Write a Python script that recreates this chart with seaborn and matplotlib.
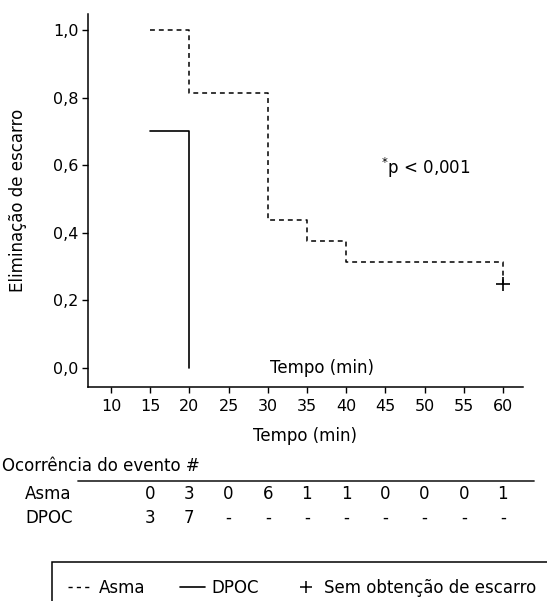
import matplotlib
matplotlib.use("Agg")
import matplotlib.pyplot as plt
import matplotlib.transforms as mtransforms
from matplotlib.lines import Line2D
from matplotlib.patches import Rectangle
import seaborn as sns
import pandas as pd

# Curvas de eliminação de escarro (Kaplan-Meier)
asma_tempo = [15, 20, 30, 35, 40, 60]
asma_elim = [1.0, 0.8125, 0.4375, 0.375, 0.3125, 0.25]
dpoc_tempo = [15, 20]
dpoc_elim = [0.7, 0.0]
censura_tempo = [60]
censura_elim = [0.25]

# Tabela de ocorrência do evento
tabela_tempo = [15, 20, 25, 30, 35, 40, 45, 50, 55, 60]
asma_eventos = ["0", "3", "0", "6", "1", "1", "0", "0", "0", "1"]
dpoc_eventos = ["3", "7", "-", "-", "-", "-", "-", "-", "-", "-"]

xticks = [10, 15, 20, 25, 30, 35, 40, 45, 50, 55, 60]
yticks = [0.0, 0.2, 0.4, 0.6, 0.8, 1.0]

FS = 12

sns.set_theme(style="ticks")
plt.rcParams["font.family"] = ["DejaVu Sans"]
plt.rcParams["mathtext.default"] = "regular"
plt.rcParams["font.size"] = FS
plt.rcParams["text.color"] = "black"
plt.rcParams["axes.labelcolor"] = "black"

fig = plt.figure(figsize=(5.47, 6.01), dpi=100)
ax = fig.add_axes([0.1609, 0.356, 0.795, 0.6207])

df_asma = pd.DataFrame({"tempo": asma_tempo, "elim": asma_elim})
df_dpoc = pd.DataFrame({"tempo": dpoc_tempo, "elim": dpoc_elim})
df_cens = pd.DataFrame({"tempo": censura_tempo, "elim": censura_elim})

sns.lineplot(data=df_asma, x="tempo", y="elim", ax=ax, color="black",
             estimator=None, sort=False, drawstyle="steps-post",
             linewidth=1.1, linestyle=(0, (3.2, 2.6)))
sns.lineplot(data=df_dpoc, x="tempo", y="elim", ax=ax, color="black",
             estimator=None, sort=False, drawstyle="steps-post", linewidth=1.2)
sns.scatterplot(data=df_cens, x="tempo", y="elim", ax=ax, color="black",
                marker="+", s=90, linewidth=1.2)

ax.set_xlim(7.07, 62.55)
ax.set_ylim(-0.056, 1.047)
ax.set_xticks(xticks)
ax.set_yticks(yticks)
ax.set_yticklabels([f"{v:.1f}".replace(".", ",") for v in yticks])
ax.tick_params(axis="both", direction="out", length=4.3, width=1.0,
               labelsize=11.5, color="black", labelcolor="black")
ax.tick_params(axis="x", pad=4.5)
ax.tick_params(axis="y", pad=2.5)
for s in ["top", "right"]:
    ax.spines[s].set_visible(False)
for s in ["left", "bottom"]:
    ax.spines[s].set_linewidth(1.1)
    ax.spines[s].set_color("black")

ax.set_xlabel("Tempo (min)", fontsize=FS)
ax.set_ylabel("Eliminação de escarro", fontsize=FS)
ax.xaxis.set_label_coords(0.5, -0.108)
ax.yaxis.set_label_coords(-0.14, 0.5)

ax.text(30.3, 0.0, "Tempo (min)", ha="left", va="center", fontsize=FS)
ax.text(44.4, 0.592, "$^{*}$p < 0,001", ha="left", va="center", fontsize=FS)

# Tabela abaixo do gráfico
trans = mtransforms.blended_transform_factory(ax.transData, fig.transFigure)
fig.text(2 / 547, 1 - 466 / 601, "Ocorrência do evento #", ha="left", va="center", fontsize=FS)
fig.add_artist(Line2D([78 / 547, 534 / 547], [1 - 481 / 601] * 2, color="#333333", lw=1.3))
fig.text(25 / 547, 1 - 494 / 601, "Asma", ha="left", va="center", fontsize=FS)
fig.text(25 / 547, 1 - 518 / 601, "DPOC", ha="left", va="center", fontsize=FS)
for t, a, d in zip(tabela_tempo, asma_eventos, dpoc_eventos):
    ax.text(t, 1 - 494 / 601, a, transform=trans, ha="center", va="center", fontsize=FS)
    ax.text(t, 1 - 518 / 601, d, transform=trans, ha="center", va="center", fontsize=FS)

# Legenda em caixa
fig.add_artist(Rectangle((52 / 547, -0.05), 1.0, 1 - 562 / 601 + 0.05,
                         transform=fig.transFigure, fill=False,
                         edgecolor="black", lw=1.1))
handles = [
    Line2D([], [], color="black", lw=1.0, linestyle=(0, (3, 3))),
    Line2D([], [], color="black", lw=1.2),
    Line2D([], [], color="black", lw=0, marker="+", markersize=9, markeredgewidth=1.1),
]
fig.legend(handles, ["Asma", "DPOC", "Sem obtenção de escarro"], loc="center left",
           bbox_to_anchor=(68 / 547, 1 - 588 / 601), ncol=3, frameon=False,
           fontsize=FS, handlelength=1.5, handletextpad=0.35, columnspacing=2.1,
           borderaxespad=0, borderpad=0)

fig.savefig("out.png", dpi=100)
